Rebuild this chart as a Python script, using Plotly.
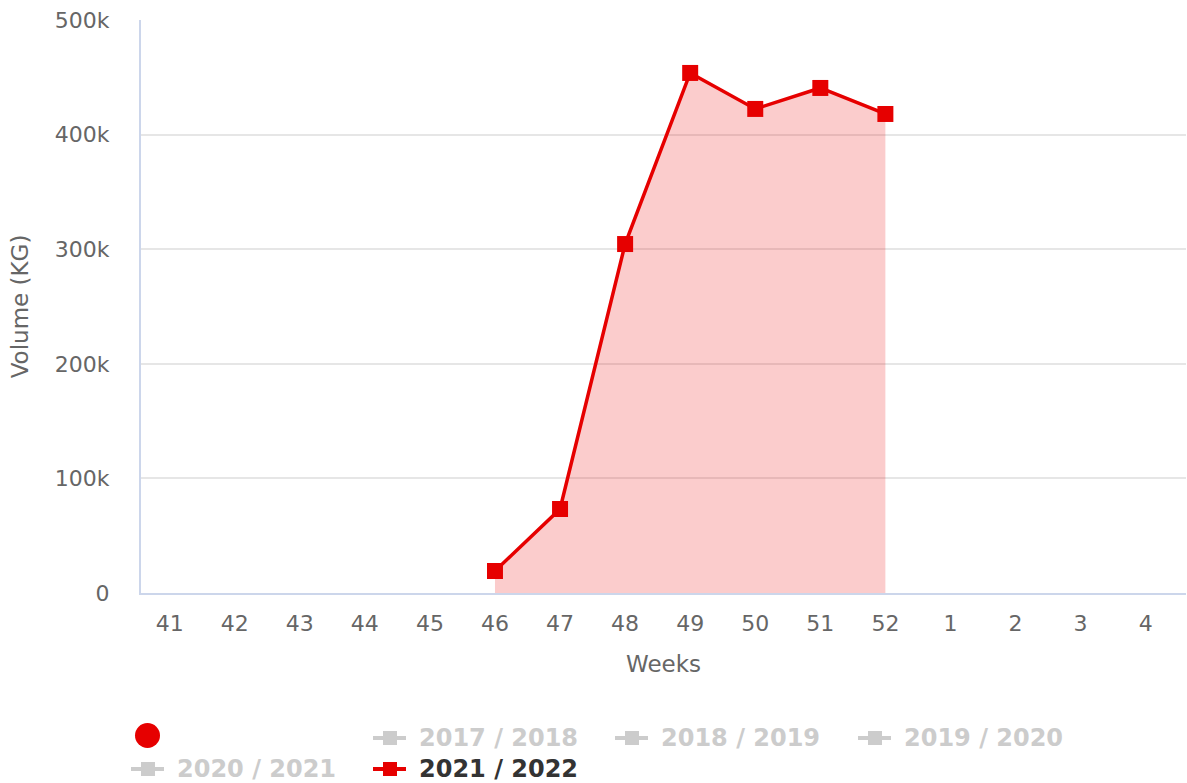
import plotly.graph_objects as go

# ---- data ----
weeks = ["41", "42", "43", "44", "45", "46", "47", "48", "49", "50", "51", "52", "1", "2", "3", "4"]
vol_2021_2022 = [None, None, None, None, None, 19200, 73300, 304500, 453800, 422400, 440700, 418000,
                 None, None, None, None]
legend_hidden = ["2017 / 2018", "2018 / 2019", "2019 / 2020", "2020 / 2021"]
legend_active = "2021 / 2022"
y_ticks = [0, 100000, 200000, 300000, 400000, 500000]
y_tick_labels = ["0", "100k", "200k", "300k", "400k", "500k"]

W, H = 1187, 783
ML, MR, MT, MB = 141, 1, 20, 190
PW, PH = W - ML - MR, H - MT - MB

RED = "#e60000"
GREY = "#cccccc"
FONT = "DejaVu Sans"


def px(x):
    return (x - ML) / PW


def py(y):
    return (H - MB - y) / PH


fig = go.Figure()
fig.add_trace(go.Scatter(
    x=weeks, y=vol_2021_2022, mode="lines+markers", name=legend_active,
    line=dict(color=RED, width=3.5),
    marker=dict(symbol="square", size=16, color=RED),
    fill="tozeroy", fillcolor="rgba(235,0,0,0.2)",
    connectgaps=False, showlegend=False,
))

shapes = []
annotations = []


def legend_item(x0, yc, label, color, textcolor):
    shapes.append(dict(type="line", xref="paper", yref="paper",
                       x0=px(x0), x1=px(x0 + 33), y0=py(yc), y1=py(yc),
                       line=dict(color=color, width=4)))
    shapes.append(dict(type="rect", xref="paper", yref="paper",
                       x0=px(x0 + 10), x1=px(x0 + 24), y0=py(yc - 7), y1=py(yc + 7),
                       fillcolor=color, line=dict(width=0)))
    annotations.append(dict(xref="paper", yref="paper", x=px(x0 + 44), y=py(yc),
                            xanchor="left", yanchor="middle", showarrow=False,
                            text="<b>%s</b>" % label,
                            font=dict(family=FONT, size=24, color=textcolor)))


shapes.append(dict(type="circle", xref="paper", yref="paper",
                   x0=px(135), x1=px(160), y0=py(723), y1=py(748),
                   fillcolor=RED, line=dict(width=0)))
legend_item(373, 738, legend_hidden[0], GREY, GREY)
legend_item(615, 738, legend_hidden[1], GREY, GREY)
legend_item(858, 738, legend_hidden[2], GREY, GREY)
legend_item(131, 769, legend_hidden[3], GREY, GREY)
legend_item(373, 769, legend_active, RED, "#333333")

fig.update_layout(
    width=W, height=H,
    margin=dict(l=ML, r=MR, t=MT, b=MB),
    paper_bgcolor="white", plot_bgcolor="white",
    font=dict(family=FONT, size=22, color="#666666"),
    showlegend=False,
    shapes=shapes, annotations=annotations,
    xaxis=dict(
        type="category", categoryorder="array", categoryarray=weeks,
        range=[-0.44, 15.62],
        showgrid=False, showline=True, linecolor="#ccd6eb", linewidth=2,
        ticks="", tickfont=dict(size=22, color="#666666"),
        ticklabelstandoff=10,
        title=dict(text="Weeks", font=dict(size=23, color="#666666"), standoff=20),
        zeroline=False,
    ),
    yaxis=dict(
        range=[0, 500000], tickvals=y_ticks, ticktext=y_tick_labels,
        showgrid=True, gridcolor="#e6e6e6", gridwidth=2,
        showline=True, linecolor="#ccd6eb", linewidth=2,
        ticks="", tickfont=dict(size=22, color="#666666"),
        ticklabelstandoff=25,
        title=dict(text="Volume (KG)", font=dict(size=23, color="#666666"), standoff=20),
        zeroline=False,
    ),
)

fig.write_html("out.html", config={"displayModeBar": False},
               post_script="document.body.style.margin='0px';document.body.style.padding='0px';")
